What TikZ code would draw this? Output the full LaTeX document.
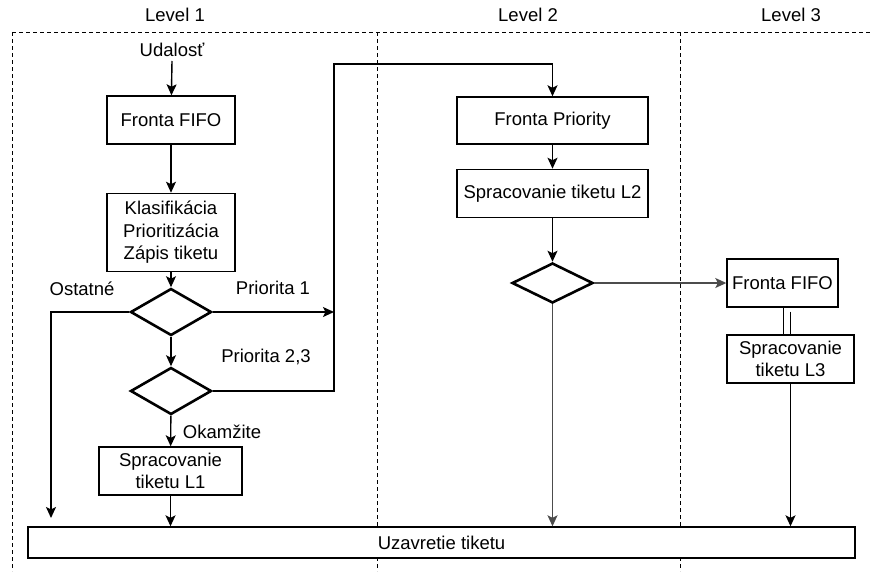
\documentclass[tikz,border=0pt]{standalone}
\usepackage{fontspec}
\setmainfont{Liberation Sans}
\usetikzlibrary{arrows.meta,positioning,shapes.geometric}
\tikzset{
  font=\fontsize{18.5}{22.7}\selectfont,
  box/.style={draw, line width=1.4pt, fill=white, align=center, inner sep=2pt, minimum height=48pt},
  dec/.style={draw, diamond, line width=2.6pt, fill=white, inner sep=0pt, minimum width=81pt, minimum height=47pt},
  flow/.style={-{Stealth[length=11pt,width=10pt,inset=2.5pt]}, line width=1.4pt},
  gflow/.style={flow, draw=black!70},
  lane/.style={line width=0.9pt, dash pattern=on 4pt off 3pt},
  lbl/.style={inner sep=0pt},
}
\begin{document}
\begin{tikzpicture}[x=1pt, y=-1pt, node distance=24pt]
\useasboundingbox (0,0) rectangle (873,571);
% lanes
\draw[lane] (12,32) -- (873,32);
\draw[lane] (12,32) -- (12,571);
\draw[lane] (377,32) -- (377,571);
\draw[lane] (680,32) -- (680,571);
\node[lbl] (lv1) at (175,15) {Level 1};
\node[lbl] (lv2) at (528,15) {Level 2};
\node[lbl] (lv3) at (791,15) {Level 3};
% level 1
\node[lbl] (udal) at (172,50) {Udalosť};
\node[box, minimum width=128pt] (fifo1) at (171,120) {Fronta FIFO};
\node[box, minimum width=128pt, minimum height=78pt, below=48pt of fifo1] (klas) {Klasifikácia\\Prioritizácia\\Zápis tiketu};
\node[dec] (d1) at (171,312) {};
\node[dec] (d2) at (171,391) {};
\node[box, minimum width=143pt] (sp1) at (170.5,471) {Spracovanie\\tiketu L1};
\node[box, minimum width=827pt, minimum height=31pt] (uzav) at (441.5,542.5) {Uzavretie tiketu};
\node[lbl] (ost) at (82,289) {Ostatné};
\node[lbl] (pr1) at (273,288) {Priorita 1};
\node[lbl] (pr23) at (266,357) {Priorita 2,3};
\node[lbl] (okam) at (222,432) {Okamžite};
\coordinate (p1) at (334,312);
\coordinate (bend) at (334,64);
\coordinate (oend) at (51,518);
% level 2
\node[box, minimum width=191pt, minimum height=47pt] (prio) at (552.5,120.5) {Fronta Priority};
\node[box, minimum width=191pt, below=24pt of prio] (sp2) {Spracovanie tiketu L2};
\node[dec, minimum height=40pt] (d3) at (552.5,283) {};
% level 3
\node[box, minimum width=111pt] (fifo3) at (782.5,283) {Fronta FIFO};
\node[box, minimum width=127pt] (sp3) at (790.5,359) {Spracovanie\\tiketu L3};
% connectors
\draw[flow] ([yshift=-4pt]udal.south) -- (fifo1);
\draw[flow] (fifo1) -- (klas);
\draw[flow] (klas) -- (d1);
\draw[flow] (d1) -- (d2);
\draw[flow] (d2) -- (sp1);
\draw[flow] (sp1.south) -- (sp1.south |- uzav.north);
\draw[flow] (d1.west) -| (oend);
\draw[flow] (d1.east) -- (p1);
\draw[flow] (d2.east) -| (bend) -| (prio.north);
\draw[flow] (prio) -- (sp2);
\draw[flow] (sp2) -- (d3);
\draw[gflow] (d3.south) -- (d3.south |- uzav.north);
\draw[gflow] (d3.east) -- (fifo3.west);
\draw[line width=1.4pt] ([xshift=-7pt]sp3.north |- fifo3.south) -- ([xshift=-7pt]sp3.north);
\draw[line width=1.4pt] ([yshift=-4pt]sp3.north |- fifo3.south) -- (sp3.north);
\draw[flow] (sp3.south) -- (sp3.south |- uzav.north);
\end{tikzpicture}
\end{document}
